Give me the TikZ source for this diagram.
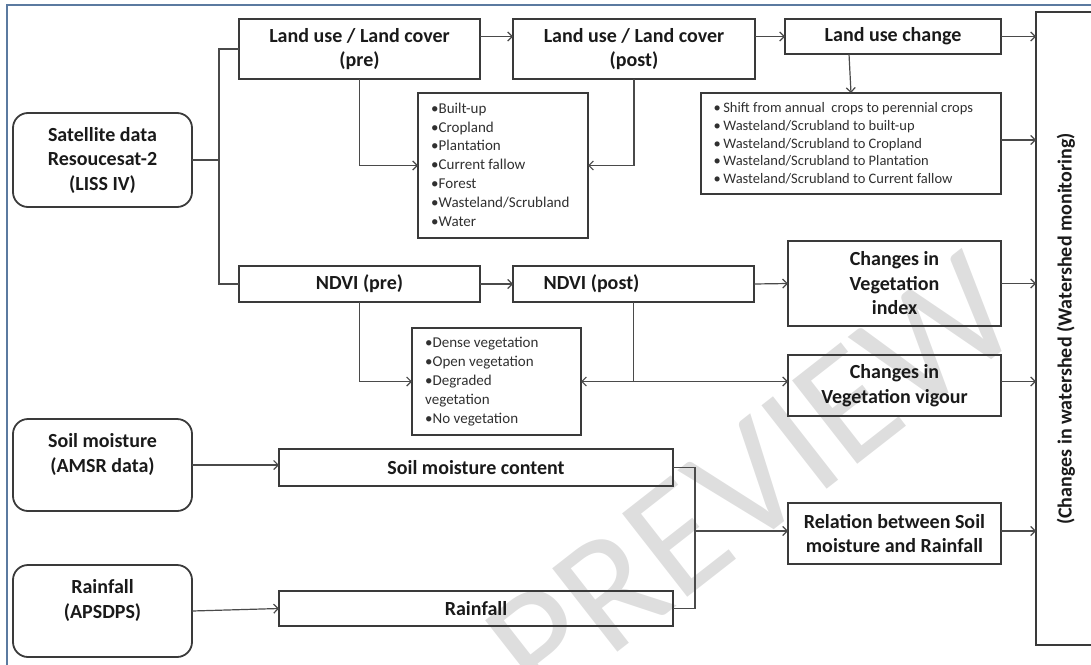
\documentclass[tikz,border=0pt]{standalone}
\usepackage{fontspec}
\setmainfont{Carlito}
\usetikzlibrary{arrows.meta}
\definecolor{framecol}{HTML}{5B7AA0}
\definecolor{boxcol}{HTML}{3A3A3A}
\definecolor{linecol}{HTML}{4A4A4A}
\definecolor{txtcol}{HTML}{1A1A1A}
\definecolor{listcol}{HTML}{303030}
\tikzset{
  box/.style={draw=boxcol, line width=1.5pt, inner sep=0pt, outer sep=0pt, text=txtcol,
    font=\bfseries\fontsize{20}{24.5}\selectfont, align=center},
  rbox/.style={box, rounded corners=15pt, line width=1.8pt},
  listbox/.style={draw=boxcol, line width=1.3pt, inner sep=0pt, outer sep=0pt, text=listcol, align=left},
  conn/.style={draw=linecol, line width=1.2pt},
  arr/.style={conn, -{Straight Barb[length=4.5pt,width=9pt]}},
}
\begin{document}
\begin{tikzpicture}[x=1pt,y=-1pt]
\useasboundingbox (0,0) rectangle (1091,664);
\clip (0,0) rectangle (1091,664);
% watermark
\node[rotate=38, text=black!13, font=\fontsize{165}{165}\selectfont] (wmark) at (752,480) {PREVIEW};
% frame
\draw[framecol, line width=2pt] (7,670) -- (7,5.3) -- (1100,5.3);
% nodes
\node[rbox, minimum width=179pt, minimum height=94pt] (sat) at (102.5,160) {Satellite data\\Resoucesat-2\\(LISS IV)};
\node[box, minimum width=241pt, minimum height=60pt] (lupre) at (359.5,49) {Land use / Land cover\\(pre)};
\node[box, minimum width=242pt, minimum height=60pt] (lupost) at (634,49) {Land use / Land cover\\(post)};
\node[box, minimum width=216pt, minimum height=35pt] (luc) at (893,36.5) {Land use change};
\node[box, line width=1.8pt, minimum width=64pt, minimum height=633pt] (wm) at (1068,328.5) {};
\node[rotate=90, text=txtcol, font=\bfseries\fontsize{20}{24.5}\selectfont] (wmtext) at (1066,329) {(Changes in watershed (Watershed monitoring)};
\node[listbox, minimum width=170pt, minimum height=145pt] (blist) at (503,165.5) {};
\node[anchor=west, text=listcol, align=left, inner sep=0pt, font=\fontsize{15}{18.8}\selectfont] (blisttext) at (431,164.5) {•Built-up\\•Cropland\\•Plantation\\•Current fallow\\•Forest\\•Wasteland/Scrubland\\•Water};
\node[listbox, minimum width=300pt, minimum height=101pt] (slist) at (851,143.5) {};
\node[anchor=west, text=listcol, align=left, inner sep=0pt, font=\fontsize{14.5}{17.7}\selectfont] (slisttext) at (713.5,143.5) {•\,Shift from annual\ \ crops to perennial crops\\•\,Wasteland/Scrubland to built-up\\•\,Wasteland/Scrubland to Cropland\\•\,Wasteland/Scrubland to Plantation\\•\,Wasteland/Scrubland to Current fallow};
\node[box, minimum width=241pt, minimum height=36pt] (ndvipre) at (359.5,284) {NDVI (pre)};
\node[box, minimum width=241pt, minimum height=36pt] (ndvipost) at (633.5,284) {NDVI (post)\hspace*{84pt}};
\node[box, minimum width=213pt, minimum height=85pt] (cvi) at (894.5,283.5) {Changes in\\Vegetation\\index};
\node[listbox, minimum width=169pt, minimum height=107pt] (vlist) at (496.5,381.5) {};
\node[anchor=west, text=listcol, align=left, inner sep=0pt, font=\fontsize{15}{18.9}\selectfont] (vlisttext) at (425,381.5) {•Dense vegetation\\•Open vegetation\\•Degraded\\vegetation\\•No vegetation};
\node[box, minimum width=213pt, minimum height=61pt] (cvv) at (894.5,385.5) {Changes in\\Vegetation vigour};
\node[rbox, minimum width=179pt, minimum height=92pt] (soil) at (102.5,465) {Soil moisture\\(AMSR data)\\\mbox{}};
\node[box, line width=1.3pt, minimum width=394pt, minimum height=37pt] (smc) at (476,467.5) {Soil moisture content};
\node[rbox, minimum width=179pt, minimum height=92pt] (rain) at (102.5,611) {Rainfall\\(APSDPS)\\\mbox{}};
\node[box, line width=2.4pt, minimum width=394pt, minimum height=35pt] (rfbox) at (476,608.5) {Rainfall};
\node[box, minimum width=213pt, minimum height=61pt] (rel) at (894.5,533.5) {Relation between Soil\\moisture and Rainfall};
% junctions
\coordinate (j1) at (219,160);
\coordinate (j2) at (ndvipost.south |- vlist.west);
\coordinate (j3) at (695,531);
% connectors
\draw[conn] (sat.east) -- (j1);
\draw[conn] (lupre.west) -| (j1) |- (ndvipre.west);
\draw[arr] ([yshift=12.5pt]lupre.east) -- ([yshift=12.5pt]lupost.west);
\draw[arr] ([yshift=12.5pt]lupost.east) -- (luc.west);
\draw[arr] (luc.east) -- (luc.east -| wm.west);
\draw[arr] ([xshift=-44pt]luc.south) -- (slist.north);
\draw[arr] (lupre.south) |- (blist.west);
\draw[arr] (lupost.south) |- (blist.east);
\draw[arr] ([yshift=3.5pt]slist.east) -- ([yshift=3.5pt]slist.east -| wm.west);
\draw[arr] (ndvipre.east) -- (ndvipost.west);
\draw[arr] (ndvipost.east) -- (cvi.west);
\draw[arr] (cvi.east) -- (cvi.east -| wm.west);
\draw[arr] (ndvipre.south) |- (vlist.west);
\draw[conn] (ndvipost.south) -- (j2);
\draw[arr] (j2) -- (vlist.east);
\draw[arr] (j2) -- (j2 -| cvv.west);
\draw[arr] (j2 -| cvv.east) -- (j2 -| wm.west);
\draw[arr] (soil.east) -- (soil.east -| smc.west);
\draw[arr] (rain.east) -- (rfbox.west);
\draw[conn] (smc.east) -| (j3) |- (rfbox.east);
\draw[arr] (j3) -- (j3 -| rel.west);
\draw[arr] (j3 -| rel.east) -- (j3 -| wm.west);
\end{tikzpicture}
\end{document}
